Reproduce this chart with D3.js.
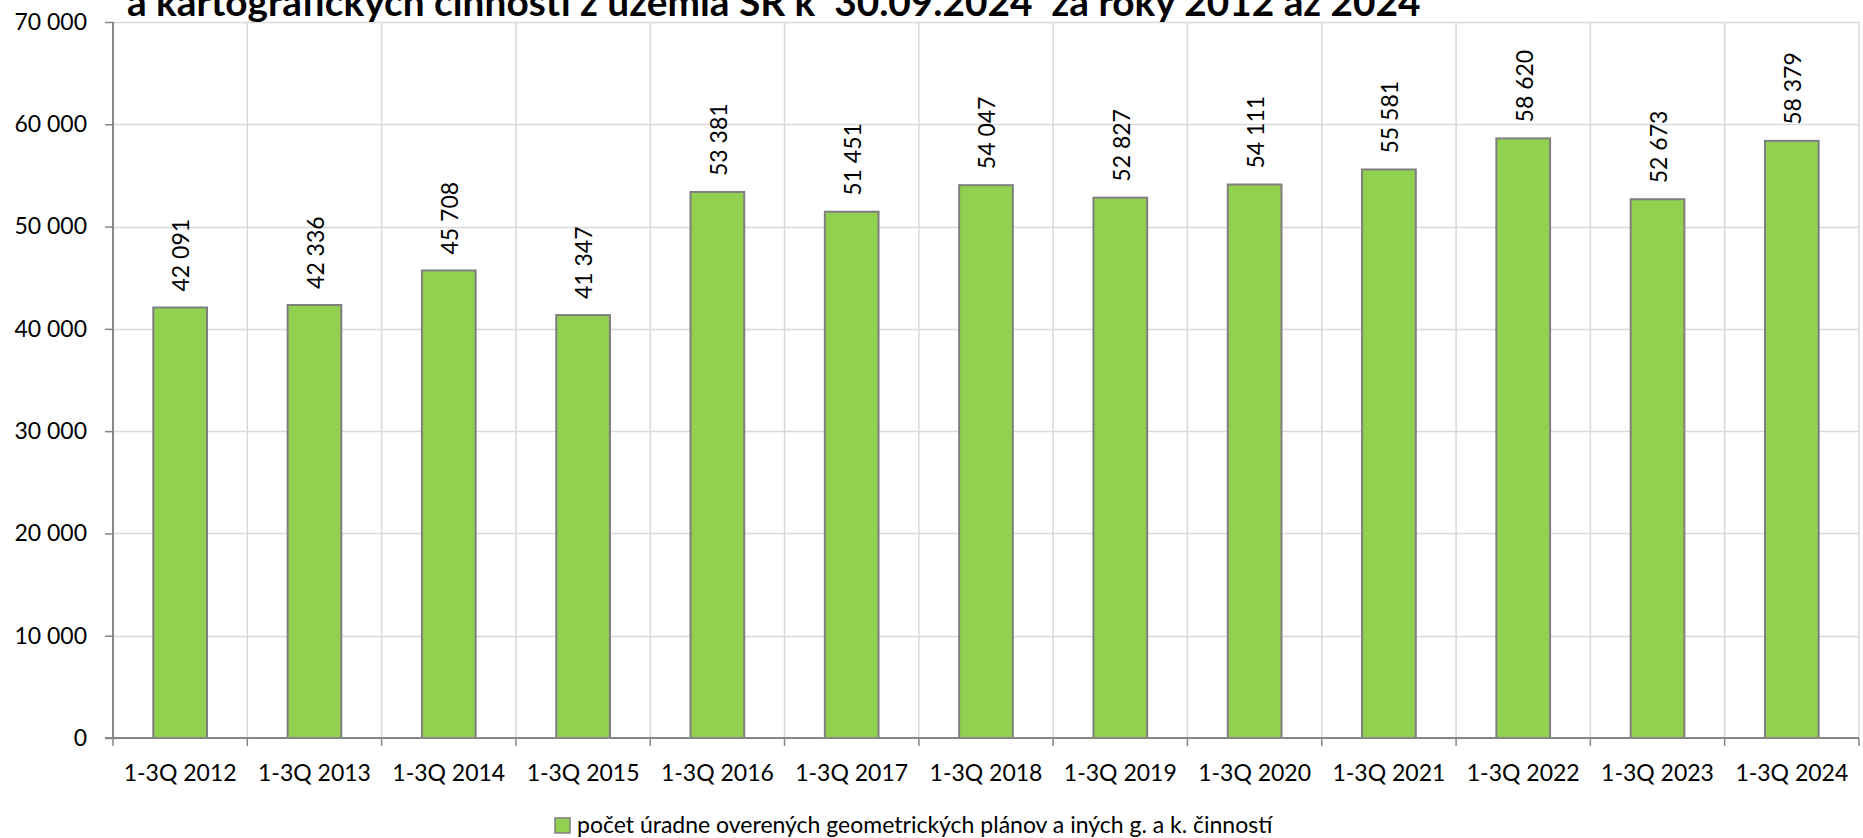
<!DOCTYPE html>
<html>
<head>
<meta charset="utf-8">
<script src="https://cdn.jsdelivr.net/npm/d3@7"></script>
<style>
  body { margin: 0; background: #fff; }
  text { font-family: Lato, "Noto Sans", sans-serif; fill: #000; }
</style>
</head>
<body>
<script>
const categories = ["1-3Q 2012", "1-3Q 2013", "1-3Q 2014", "1-3Q 2015", "1-3Q 2016", "1-3Q 2017", "1-3Q 2018",
                    "1-3Q 2019", "1-3Q 2020", "1-3Q 2021", "1-3Q 2022", "1-3Q 2023", "1-3Q 2024"];
const values = [42091, 42336, 45708, 41347, 53381, 51451, 54047, 52827, 54111, 55581, 58620, 52673, 58379];
const yTicks = [0, 10000, 20000, 30000, 40000, 50000, 60000, 70000];
const seriesName = "počet úradne overených geometrických plánov a iných g. a k. činností";
const title = "a kartografických činností z územia SR k  30.09.2024  za roky 2012 až 2024";

const W = 1863, H = 838;
const mLeft = 113, mRight = 1859, mTop = 22, mBottom = 738;

const fmt = v => d3.format(",")(v).replace(/,/g, " ");

const svg = d3.select("body").append("svg")
    .attr("width", W)
    .attr("height", H);

const x = d3.scaleBand()
    .domain(categories)
    .range([mLeft, mRight])
    .paddingInner(0.6)
    .paddingOuter(0.3);

const y = d3.scaleLinear()
    .domain([0, 70000])
    .range([mBottom, mTop]);

// horizontal gridlines
svg.append("g").selectAll("line")
    .data(yTicks.filter(d => d > 0))
    .join("line")
    .attr("x1", mLeft).attr("x2", mRight)
    .attr("y1", d => Math.round(y(d)) + 0.5).attr("y2", d => Math.round(y(d)) + 0.5)
    .attr("stroke", "#d9d9d9")
    .attr("stroke-width", 1.5);

// vertical gridlines at category boundaries
const step = (mRight - mLeft) / categories.length;
svg.append("g").selectAll("line")
    .data(d3.range(1, categories.length + 1))
    .join("line")
    .attr("x1", i => mLeft + i * step).attr("x2", i => mLeft + i * step)
    .attr("y1", mTop).attr("y2", mBottom)
    .attr("stroke", "#d9d9d9")
    .attr("stroke-width", 1.5);

// bars
svg.append("g").selectAll("rect")
    .data(values)
    .join("rect")
    .attr("x", (d, i) => x(categories[i]))
    .attr("y", d => y(d))
    .attr("width", x.bandwidth())
    .attr("height", d => mBottom - y(d))
    .attr("fill", "#92d050")
    .attr("stroke", "#7f7f7f")
    .attr("stroke-width", 2);

// value labels
svg.append("g").selectAll("text")
    .data(values)
    .join("text")
    .attr("transform", (d, i) => `translate(${x(categories[i]) + x.bandwidth() / 2 + 1},${y(d) - 16}) rotate(-90)`)
    .attr("dy", "0.36em")
    .attr("font-size", 23)
    .text(d => fmt(d));

// y axis
const yAxis = svg.append("g")
    .attr("transform", `translate(${mLeft},0)`)
    .call(d3.axisLeft(y).tickValues(yTicks).tickFormat(fmt).tickSize(8).tickPadding(18));
yAxis.selectAll("line").attr("stroke", "#868686").attr("stroke-width", 1.5);
yAxis.select(".domain").attr("stroke", "#868686").attr("stroke-width", 2).attr("d", `M0,${mTop}V${mBottom}`);
yAxis.selectAll("text").attr("font-size", 23).attr("font-family", "Lato, sans-serif");

// x axis
const xAxis = svg.append("g")
    .attr("transform", `translate(0,${mBottom})`);
xAxis.append("line")
    .attr("x1", mLeft - 8).attr("x2", mRight)
    .attr("stroke", "#868686").attr("stroke-width", 2);
xAxis.selectAll("line.tick")
    .data(d3.range(0, categories.length + 1))
    .join("line")
    .attr("class", "tick")
    .attr("x1", i => mLeft + i * step).attr("x2", i => mLeft + i * step)
    .attr("y1", 0).attr("y2", 8)
    .attr("stroke", "#868686").attr("stroke-width", 1.5);
xAxis.selectAll("text")
    .data(categories)
    .join("text")
    .attr("x", d => x(d) + x.bandwidth() / 2)
    .attr("y", 43)
    .attr("text-anchor", "middle")
    .attr("font-size", 23)
    .text(d => d);

// title (top part cut off in the original)
const t = svg.append("text")
    .attr("x", 127)
    .attr("y", 16)
    .attr("font-weight", "bold")
    .attr("font-size", 30)
    .style("white-space", "pre")
    .text(title);
const tw = t.node().getComputedTextLength();
t.attr("font-size", 30 * 1294 / tw);

// legend
svg.append("rect")
    .attr("x", 555).attr("y", 818)
    .attr("width", 15).attr("height", 15)
    .attr("fill", "#92d050")
    .attr("stroke", "#7f7f7f")
    .attr("stroke-width", 1.5);
svg.append("text")
    .attr("x", 577)
    .attr("y", 833)
    .attr("font-size", 23)
    .text(seriesName);
</script>
</body>
</html>
